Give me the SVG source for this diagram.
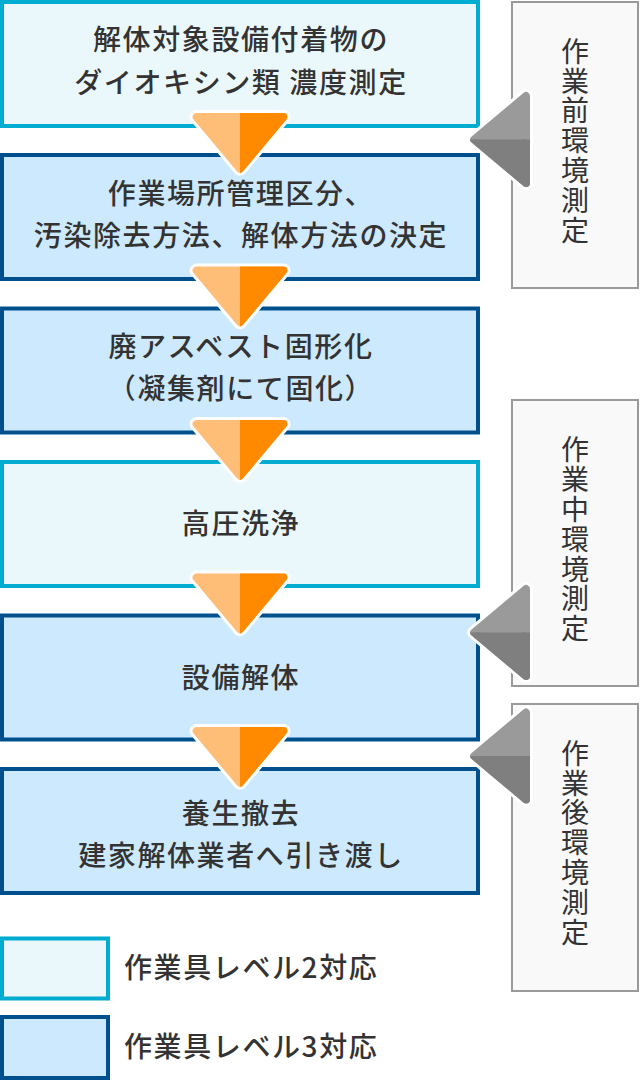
<svg xmlns="http://www.w3.org/2000/svg" width="640" height="1080" viewBox="0 0 640 1080">
<style>
.lv2{fill:#ebf8fb;stroke:#00acd0;stroke-width:4}
.lv3{fill:#cde9fd;stroke:#00508e;stroke-width:4}
.side{fill:#f9f9f9;stroke:#9a9a9a;stroke-width:2}
.t{font-family:"Noto Sans CJK JP","Noto Sans",sans-serif;font-size:28px;font-weight:500;fill:#333;letter-spacing:1.6px;text-anchor:middle}
.lg{font-family:"Noto Sans CJK JP","Noto Sans",sans-serif;font-size:28px;font-weight:500;fill:#333;letter-spacing:1.6px}
.v{font-family:"Noto Sans CJK JP","Noto Sans",sans-serif;font-size:28px;fill:#333;letter-spacing:1.8px;text-anchor:middle;writing-mode:vertical-rl}
</style>
<defs>
<clipPath id="rightHalf" clipPathUnits="userSpaceOnUse"><rect x="0" y="-20" width="80" height="100"/></clipPath>
<clipPath id="bottomHalf" clipPathUnits="userSpaceOnUse"><rect x="-80" y="0" width="100" height="80"/></clipPath>
<g id="arrowDown">
<polygon points="-43.4,4 43.4,4 0,55.8" fill="#fff" stroke="#fff" stroke-width="14" stroke-linejoin="round"/>
<polygon points="-43.4,4 43.4,4 0,55.8" fill="#ffbe78" stroke="#ffbe78" stroke-width="8" stroke-linejoin="round"/>
<polygon points="-43.4,4 43.4,4 0,55.8" fill="#ff8a00" stroke="#ff8a00" stroke-width="8" stroke-linejoin="round" clip-path="url(#rightHalf)"/>
</g>
<g id="arrowLeft">
<polygon points="-4,-43.4 -4,43.4 -55.8,0" fill="#fff" stroke="#fff" stroke-width="14" stroke-linejoin="round"/>
<polygon points="-4,-43.4 -4,43.4 -55.8,0" fill="#9a9a9a" stroke="#9a9a9a" stroke-width="8" stroke-linejoin="round"/>
<polygon points="-4,-43.4 -4,43.4 -55.8,0" fill="#7f7f7f" stroke="#7f7f7f" stroke-width="8" stroke-linejoin="round" clip-path="url(#bottomHalf)"/>
</g>
</defs>
<rect width="640" height="1080" fill="#fff"/>

<g id="node1">
<rect class="lv2" x="2" y="2" width="476" height="124"/>
<text class="t" x="241" y="50">解体対象設備付着物の</text>
<text class="t" x="241" y="92.8">ダイオキシン類 濃度測定</text>
</g>
<g id="node2">
<rect class="lv3" x="2" y="155" width="476" height="124"/>
<text class="t" x="241" y="203.8">作業場所管理区分、</text>
<text class="t" x="241" y="246.3">汚染除去方法、解体方法の決定</text>
</g>
<g id="node3">
<rect class="lv3" x="2" y="308.5" width="476" height="124"/>
<text class="t" x="241" y="357.3">廃アスベスト固形化</text>
<text class="t" x="241" y="399.3">（凝集剤にて固化）</text>
</g>
<g id="node4">
<rect class="lv2" x="2" y="462" width="476" height="124"/>
<text class="t" x="241" y="533.8">高圧洗浄</text>
</g>
<g id="node5">
<rect class="lv3" x="2" y="615.5" width="476" height="124"/>
<text class="t" x="241" y="687.8">設備解体</text>
</g>
<g id="node6">
<rect class="lv3" x="2" y="769" width="476" height="124"/>
<text class="t" x="241" y="823.8">養生撤去</text>
<text class="t" x="241" y="866.3">建家解体業者へ引き渡し</text>
</g>

<g id="side1">
<rect class="side" x="512" y="2" width="126" height="286"/>
<text class="v" x="575" y="141.5">作業前環境測定</text>
</g>
<g id="side2">
<rect class="side" x="512" y="400" width="126" height="286"/>
<text class="v" x="575" y="540">作業中環境測定</text>
</g>
<g id="side3">
<rect class="side" x="512" y="704" width="126" height="287"/>
<text class="v" x="575" y="843.5">作業後環境測定</text>
</g>

<g id="connectors">
<use href="#arrowDown" transform="translate(240,113)"/>
<use href="#arrowDown" transform="translate(240,266.5)"/>
<use href="#arrowDown" transform="translate(240,420)"/>
<use href="#arrowDown" transform="translate(240,573.5)"/>
<use href="#arrowDown" transform="translate(240,727)"/>
<use href="#arrowLeft" transform="translate(530,139.5)"/>
<use href="#arrowLeft" transform="translate(530,632.5)"/>
<use href="#arrowLeft" transform="translate(530,756)"/>
</g>

<g id="legend">
<g id="legend-lv2">
<rect class="lv2" x="2" y="938.5" width="106" height="60"/>
<text class="lg" x="124" y="978.3">作業具レベル2対応</text>
</g>
<g id="legend-lv3">
<rect class="lv3" x="2" y="1017" width="106" height="61"/>
<text class="lg" x="124" y="1057">作業具レベル3対応</text>
</g>
</g>
</svg>
